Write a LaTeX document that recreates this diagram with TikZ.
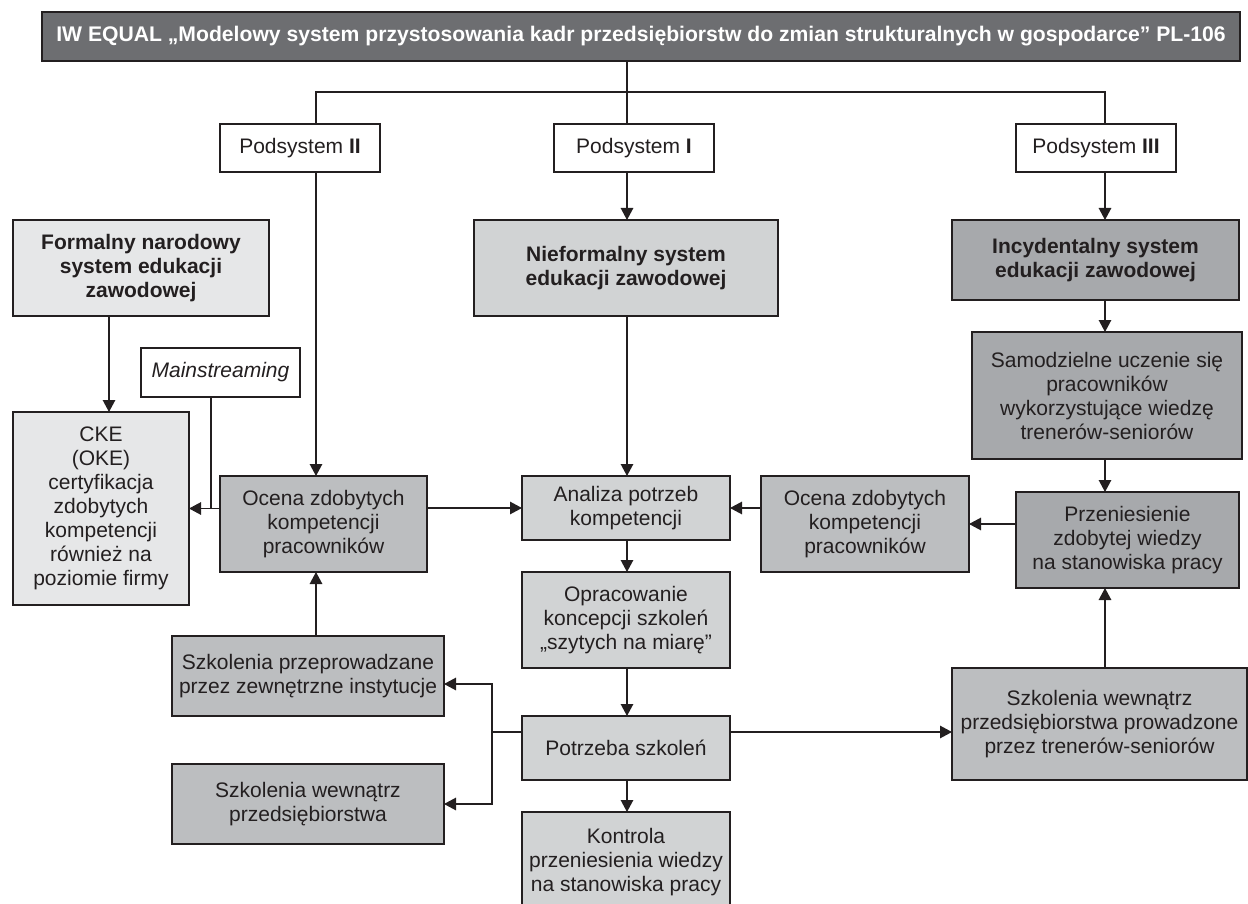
\documentclass[tikz,border=0pt]{standalone}
\usepackage{fontspec}
\setmainfont{Liberation Sans}
\usetikzlibrary{arrows.meta}

\definecolor{ink}{HTML}{231F20}
\definecolor{titlegray}{HTML}{6D6E71}
\definecolor{vlightgray}{HTML}{E6E7E8}
\definecolor{lightgray}{HTML}{D1D3D4}
\definecolor{midgray}{HTML}{BCBEC0}
\definecolor{darkgray}{HTML}{A7A9AC}

% box given by its corners: name, x1, y1, x2, y2, style, text
\newcommand\diagbox[7]{%
  \node[#6, anchor=north west, minimum width={#4-#2}, minimum height={#5-#3}]
    (#1) at (#2,#3) {#7};}

\begin{document}
\begin{tikzpicture}[x=1pt,y=-1pt,
  box/.style={draw=ink, line width=2pt, inner sep=2pt, outer sep=0pt,
    align=center, font=\fontsize{21}{24}\selectfont, text=ink},
  whitebox/.style={box, fill=white},
  vlightbox/.style={box, fill=vlightgray},
  lightbox/.style={box, fill=lightgray},
  midbox/.style={box, fill=midgray},
  darkbox/.style={box, fill=darkgray},
  titlebox/.style={box, fill=titlegray, text=white,
    font=\fontsize{21.15}{25}\selectfont\bfseries},
  link/.style={draw=ink, line width=1.3pt},
  arr/.style={link, -{Triangle[length=12pt,width=12.5pt]}}]

\useasboundingbox (0,0) rectangle (1248,904);
\clip (0,0) rectangle (1248,904);

% ---- boxes ----
\diagbox{title}{42}{12}{1240}{61}{titlebox}{IW EQUAL „Modelowy system przystosowania kadr przedsiębiorstw do zmian strukturalnych w gospodarce” PL-106}
\diagbox{p2}{220}{124}{380}{172}{whitebox}{Podsystem \textbf{II}}
\diagbox{p1}{554}{124}{714}{172}{whitebox}{Podsystem \textbf{I}}
\diagbox{p3}{1016}{124}{1176}{172}{whitebox}{Podsystem \textbf{III}}

\diagbox{formalny}{13}{220}{269}{316}{vlightbox}{\bfseries Formalny narodowy\\\bfseries system edukacji\\\bfseries zawodowej}
\diagbox{nieformalny}{474}{220}{778}{316}{lightbox}{\bfseries Nieformalny system\\\bfseries edukacji zawodowej}
\diagbox{incydentalny}{952}{220}{1239}{300}{darkbox}{\bfseries Incydentalny system\\\bfseries edukacji zawodowej}

\diagbox{mainstreaming}{141}{348}{300}{397}{whitebox}{\itshape Mainstreaming}
\diagbox{samodzielne}{972}{332}{1242}{459}{darkbox}{Samodzielne uczenie się\\pracowników\\wykorzystujące wiedzę\\trenerów-seniorów}

\diagbox{cke}{13}{412}{189}{605}{vlightbox}{CKE\\(OKE)\\certyfikacja\\zdobytych\\kompetencji\\również na\\poziomie firmy}
\diagbox{ocenaL}{220}{476}{427}{572}{midbox}{Ocena zdobytych\\kompetencji\\pracowników}
\diagbox{analiza}{522}{476}{730}{540}{lightbox}{Analiza potrzeb\\kompetencji}
\diagbox{ocenaR}{761}{476}{969}{572}{midbox}{Ocena zdobytych\\kompetencji\\pracowników}
\diagbox{przeniesienie}{1016}{492}{1239}{588}{darkbox}{Przeniesienie\\zdobytej wiedzy\\na stanowiska pracy}

\diagbox{opracowanie}{522}{572}{730}{668}{lightbox}{Opracowanie\\koncepcji szkoleń\\„szytych na miarę”}
\diagbox{szkprzep}{172}{636}{444}{716}{midbox}{Szkolenia przeprowadzane\\przez zewnętrzne instytucje}
\diagbox{szkprow}{952}{668}{1247}{780}{midbox}{Szkolenia wewnątrz\\przedsiębiorstwa prowadzone\\przez trenerów-seniorów}
\diagbox{potrzeba}{522}{716}{730}{780}{lightbox}{Potrzeba szkoleń}
\diagbox{szkwew}{172}{764}{444}{844}{midbox}{Szkolenia wewnątrz\\przedsiębiorstwa}
\diagbox{kontrola}{522}{812}{730}{912}{lightbox}{Kontrola\\przeniesienia wiedzy\\na stanowiska pracy}

% ---- routing lines ----
\coordinate (xI) at (627,0);
\coordinate (xII) at (316,0);
\coordinate (xIII) at (1105,0);
\coordinate (xF) at (109,0);
\coordinate (xM) at (211,0);
\coordinate (xB) at (492,0);
\coordinate (bus) at (0,92);
\coordinate (yP) at (0,732);
\coordinate (yU) at (0,684);
\coordinate (yD) at (0,804);

% ---- connectors ----
\draw[link] (title.south -| xI) -- (p1.north -| xI);
\draw[link] (p2.north -| xII) -- (bus -| xII) -- (bus -| xIII) -- (p3.north -| xIII);

\draw[arr] (p2.south -| xII) -- (ocenaL.north -| xII);
\draw[arr] (p1.south -| xI) -- (nieformalny.north -| xI);
\draw[arr] (p3.south -| xIII) -- (incydentalny.north -| xIII);

\draw[arr] (formalny.south -| xF) -- (cke.north -| xF);
\draw[arr] (nieformalny.south -| xI) -- (analiza.north -| xI);
\draw[arr] (incydentalny.south -| xIII) -- (samodzielne.north -| xIII);
\draw[arr] (samodzielne.south -| xIII) -- (przeniesienie.north -| xIII);

\draw[arr] (przeniesienie.west |- ocenaR.east) -- (ocenaR.east);
\draw[arr] (ocenaR.west |- analiza.east) -- (analiza.east);
\draw[arr] (ocenaL.east |- analiza.west) -- (analiza.west);
\draw[arr] (ocenaL.west |- cke.east) -- (cke.east);
\draw[link] (mainstreaming.south -| xM) -- (xM |- cke.east);

\draw[arr] (analiza.south -| xI) -- (opracowanie.north -| xI);
\draw[arr] (opracowanie.south -| xI) -- (potrzeba.north -| xI);
\draw[arr] (potrzeba.south -| xI) -- (kontrola.north -| xI);

\draw[arr] (szkprzep.north -| xII) -- (ocenaL.south -| xII);
\draw[arr] (szkprow.north -| xIII) -- (przeniesienie.south -| xIII);

\draw[link] (potrzeba.west |- yP) -- (xB |- yP);
\draw[arr] (xB |- yP) -- (xB |- yU) -- (szkprzep.east |- yU);
\draw[arr] (xB |- yP) -- (xB |- yD) -- (szkwew.east |- yD);
\draw[arr] (potrzeba.east |- yP) -- (szkprow.west |- yP);

\end{tikzpicture}
\end{document}
